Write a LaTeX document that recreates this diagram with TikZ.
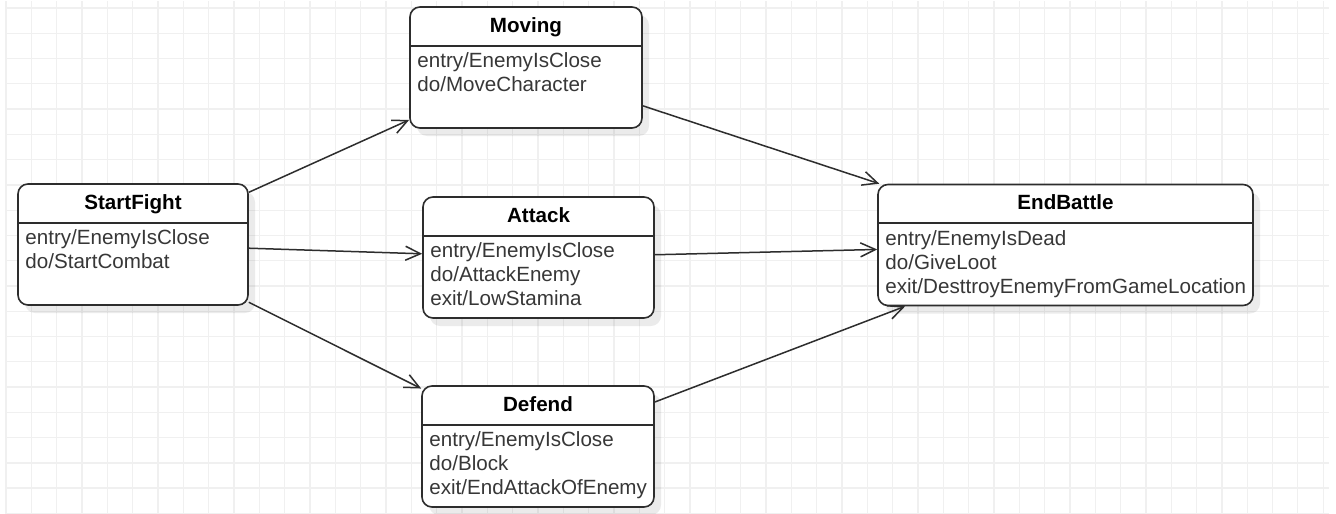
\documentclass[tikz,border=0pt]{standalone}
\usepackage{fontspec}
\setmainfont{Liberation Sans}
\usetikzlibrary{arrows.meta,shadows}

\definecolor{gridline}{RGB}{240,240,240}
\definecolor{ink}{RGB}{45,45,45}
\definecolor{bodyink}{RGB}{55,55,55}

% One UML state: name, centre, width, title, activity lines
\newcommand\umlstate[5]{%
  \node[statebox, minimum width=#3] (#1) at #2 {};
  \draw[sepline] ([yshift=-39.5pt]#1.north west) -- ([yshift=-39.5pt]#1.north east);
  \node[titletext, anchor=base] (#1-title) at ([yshift=-26pt]#1.north) {#4};
  \node[bodytext, anchor=north west] (#1-body) at ([xshift=8pt,yshift=-45.5pt]#1.north west) {\rule{0pt}{16pt}#5};
}

\begin{document}
\begin{tikzpicture}[x=1pt,y=-1pt,
  gridstroke/.style={draw=gridline, line width=1.3pt},
  statebox/.style={draw=ink, line width=1.6pt, fill=white, rounded corners=10pt,
    inner sep=0pt, minimum height=121pt,
    drop shadow={shadow xshift=7pt, shadow yshift=-8pt, fill=black, opacity=0.08}},
  sepline/.style={draw=ink, line width=1.6pt},
  titletext/.style={inner sep=0pt, text=black, font=\fontsize{20.6}{24}\selectfont\bfseries},
  bodytext/.style={inner sep=0pt, text=bodyink, align=left, font=\fontsize{20.6}{24}\selectfont},
  flow/.style={draw=ink, line width=1.5pt, -{Straight Barb[length=15pt,width=14pt]}}
]
\useasboundingbox (0,0) rectangle (1336,514);
\fill[white] (0,0) rectangle (1336,514);

% background grid
\foreach \i in {0,...,52}
  \draw[gridstroke] ({6+25.33*\i},1) -- ({6+25.33*\i},514);
\foreach \j in {0,...,20}
  \draw[gridstroke] (5,{8+25.27*\j}) -- (1329,{8+25.27*\j});

% states
\umlstate{StartFight}{(133,244.5)}{230pt}{StartFight}{entry/EnemyIsClose\\do/StartCombat}
\umlstate{Moving}{(526,67.5)}{232pt}{Moving}{entry/EnemyIsClose\\do/MoveCharacter}
\umlstate{Attack}{(538.5,257.5)}{231pt}{Attack}{entry/EnemyIsClose\\do/AttackEnemy\\exit/LowStamina}
\umlstate{Defend}{(538,446.5)}{232pt}{Defend}{entry/EnemyIsClose\\do/Block\\exit/EndAttackOfEnemy}
\umlstate{EndBattle}{(1065.5,245)}{375pt}{EndBattle}{entry/EnemyIsDead\\do/GiveLoot\\exit/DesttroyEnemyFromGameLocation}

% transitions
\draw[flow] (StartFight) -- (Moving);
\draw[flow] (StartFight) -- (Attack);
\draw[flow] (StartFight) -- (Defend);
\draw[flow] (Moving) -- (EndBattle);
\draw[flow] (Attack) -- (EndBattle);
\draw[flow] (Defend) -- (EndBattle);
\end{tikzpicture}
\end{document}
